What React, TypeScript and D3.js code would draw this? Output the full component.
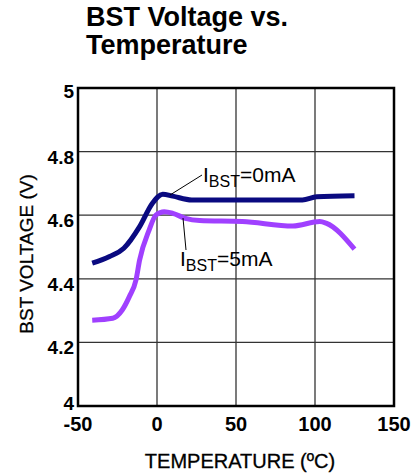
import React from "react";
import * as d3 from "d3";

const xTicks = [-50, 0, 50, 100, 150];
const yTicks = [4, 4.2, 4.4, 4.6, 4.8, 5];
const yTickLabels = ["4", "4.2", "4.4", "4.6", "4.8", "5"];

const tempA = [-41, -30, -21, -11, -3, 3.6, 10, 22, 50, 86, 92, 101, 125];
const vA = [4.449, 4.47, 4.496, 4.564, 4.637, 4.666, 4.66, 4.648, 4.648, 4.648, 4.648, 4.658, 4.661];

const tempB = [-41, -28, -22, -17.5, -13.3, -11, -5, -0.6, 4.6, 10, 18, 27, 54, 86, 103, 107, 125];
const vB = [4.27, 4.276, 4.302, 4.344, 4.396, 4.459, 4.553, 4.601, 4.611, 4.606, 4.59, 4.583, 4.58, 4.566, 4.58, 4.575, 4.493];

const W = 419, H = 475;
const L = 78, R = 394, T = 88, B = 406;

export default function App() {
  const x = d3.scaleLinear().domain([-50, 150]).range([L, R]);
  const y = d3.scaleLinear().domain([4, 5]).range([B, T]);
  const line = d3.line<number>().curve(d3.curveMonotoneX);
  const pA = line(tempA.map((t, i) => [x(t), y(vA[i])] as any) as any);
  const pB = line(tempB.map((t, i) => [x(t), y(vB[i])] as any) as any);
  const font = "Arial, 'Liberation Sans', sans-serif";
  return (
    <svg width={W} height={H} style={{ position: "absolute", left: 0, top: 0 }} fontFamily={font}>
      <rect width={W} height={H} fill="#fff" />
      <text x={86} y={26} fontSize={27} fontWeight="bold" fill="#000">BST Voltage vs.</text>
      <text x={86} y={54} fontSize={27} fontWeight="bold" fill="#000">Temperature</text>
      {xTicks.slice(1, -1).map((t) => (
        <line key={"gx" + t} x1={x(t)} x2={x(t)} y1={T} y2={B} stroke="#333" strokeWidth={1.3} />
      ))}
      {yTicks.slice(1, -1).map((t) => (
        <line key={"gy" + t} x1={L} x2={R} y1={y(t)} y2={y(t)} stroke="#333" strokeWidth={1.3} />
      ))}
      <path d={pB!} fill="none" stroke="#a040ff" strokeWidth={5} strokeLinejoin="round" />
      <path d={pA!} fill="none" stroke="#0a0a80" strokeWidth={5} strokeLinejoin="round" />
      <rect x={L} y={T} width={R - L} height={B - T} fill="none" stroke="#000" strokeWidth={2.5} />
      {xTicks.map((t) => (
        <text key={"xt" + t} x={x(t)} y={431} fontSize={20} fontWeight="bold" textAnchor="middle">{t}</text>
      ))}
      {yTicks.map((t, i) => (
        <text key={"yt" + t} x={74} y={y(t) + (i === 0 ? 4 : i === yTicks.length - 1 ? 10 : 12)} fontSize={19} fontWeight="bold" textAnchor="end">{yTickLabels[i]}</text>
      ))}
      <text x={240} y={468} fontSize={20} textAnchor="middle" stroke="#000" strokeWidth={0.3}>TEMPERATURE (ºC)</text>
      <text transform={`translate(33,254) rotate(-90)`} fontSize={19} textAnchor="middle" stroke="#000" strokeWidth={0.3}>BST VOLTAGE (V)</text>
      <line x1={202} y1={175} x2={170} y2={195} stroke="#000" strokeWidth={1} />
      <text x={203} y={182} fontSize={21}>
        I<tspan dy={5} fontSize={16}>BST</tspan><tspan dy={-5}>=0mA</tspan>
      </text>
      <line x1={183} y1={218} x2={186} y2={250} stroke="#000" strokeWidth={1} />
      <text x={180} y={266} fontSize={21}>
        I<tspan dy={5} fontSize={16}>BST</tspan><tspan dy={-5}>=5mA</tspan>
      </text>
    </svg>
  );
}
